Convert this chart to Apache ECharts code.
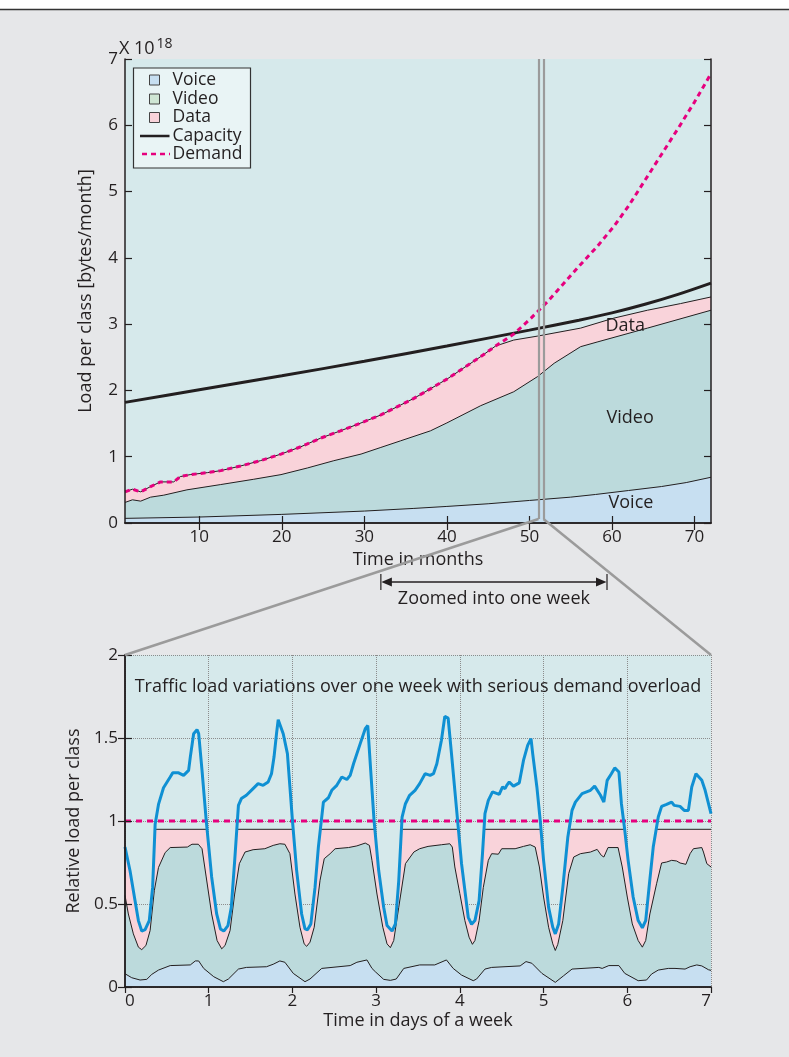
<!DOCTYPE html>
<html><head><meta charset="utf-8">
<script src="https://cdn.jsdelivr.net/npm/echarts@6/dist/echarts.min.js"></script>
<style>html,body{margin:0;padding:0;background:#e6e7e9;} #c{width:789px;height:1057px;}</style>
</head><body><div id="c"></div>
<script>
// ---------- Top chart data: [month, load x 10^18 bytes/month] ----------
const monthTicks = [10, 20, 30, 40, 50, 60, 70];
const voiceLoad = [[1,0.07],[10,0.09],[20,0.13],[30,0.18],[36,0.22],[40,0.25],[45,0.29],[50,0.34],[55,0.39],[58,0.43],[62,0.49],[66,0.55],[69,0.61],[72,0.69]];
const videoTop = [[1,0.31],[1.9,0.35],[2.9,0.33],[4.1,0.39],[5.7,0.42],[8.5,0.50],[12.6,0.58],[16.6,0.66],[19.9,0.73],[23.1,0.83],[26.3,0.94],[29.6,1.04],[32,1.14],[34.4,1.24],[38,1.39],[40,1.51],[44.1,1.77],[48.1,1.98],[51,2.21],[53,2.41],[56.2,2.66],[58.2,2.73],[64.3,2.94],[72,3.21]];
const dataTop = [[1,0.47],[1.9,0.51],[2.9,0.47],[4.1,0.55],[5.3,0.62],[6.9,0.62],[7.7,0.70],[8.9,0.73],[11,0.76],[12.6,0.79],[15,0.86],[17.4,0.94],[19.9,1.04],[22.3,1.15],[24.7,1.28],[27.1,1.39],[29.6,1.51],[32,1.63],[34.4,1.78],[36,1.88],[40,2.17],[44.1,2.51],[45.9,2.67],[48.1,2.76],[51,2.82],[56.2,2.94],[60.2,3.09],[64.3,3.21],[68.3,3.31],[72,3.41]];
const capacityLoad = [[1,1.82],[10,2.01],[20,2.22],[30,2.44],[40,2.67],[50,2.91],[56,3.06],[60,3.17],[64,3.30],[68,3.45],[72,3.62]];
const demandLoad = [[1,0.47],[1.9,0.51],[2.9,0.47],[4.1,0.55],[5.3,0.62],[6.9,0.62],[7.7,0.70],[8.9,0.73],[11,0.76],[12.6,0.79],[15,0.86],[17.4,0.94],[19.9,1.04],[22.3,1.15],[24.7,1.28],[27.1,1.39],[29.6,1.51],[32,1.63],[34.4,1.78],[36,1.88],[40,2.17],[44.1,2.51],[45.9,2.67],[48.1,2.85],[50.2,3.09],[52.2,3.34],[54.2,3.62],[56.2,3.90],[58.2,4.17],[60.2,4.47],[62,4.78],[64,5.17],[66,5.56],[68,5.95],[70,6.35],[72,6.78]];
const zoomWeekMonths = [51.1, 51.7];
const zoomArrowMonths = [32, 59.4];

// ---------- Bottom chart data: [day, relative load] ----------
const trafficLoad = [[0,0.843],[0.06,0.70],[0.12,0.52],[0.16,0.40],[0.2,0.337],[0.24,0.345],[0.29,0.40],[0.33,0.60],[0.36,0.98],[0.40,1.10],[0.46,1.20],[0.54,1.265],[0.57,1.29],[0.64,1.29],[0.70,1.275],[0.76,1.305],[0.78,1.385],[0.82,1.526],[0.86,1.55],[0.88,1.526],[0.92,1.305],[0.97,1.004],[1.035,0.663],[1.095,0.44],[1.14,0.35],[1.18,0.337],[1.23,0.37],[1.27,0.48],[1.31,0.76],[1.355,1.094],[1.39,1.135],[1.45,1.155],[1.53,1.195],[1.59,1.225],[1.65,1.215],[1.71,1.235],[1.75,1.285],[1.78,1.385],[1.81,1.526],[1.83,1.61],[1.89,1.526],[1.94,1.406],[1.97,1.205],[2.0,1.004],[2.05,0.703],[2.11,0.44],[2.15,0.35],[2.18,0.345],[2.22,0.38],[2.27,0.60],[2.31,0.843],[2.37,1.114],[2.43,1.14],[2.47,1.185],[2.53,1.215],[2.59,1.265],[2.65,1.25],[2.69,1.275],[2.73,1.345],[2.81,1.466],[2.87,1.556],[2.90,1.575],[2.935,1.305],[2.975,1.004],[3.03,0.703],[3.09,0.48],[3.13,0.37],[3.19,0.337],[3.23,0.38],[3.27,0.64],[3.31,1.024],[3.35,1.104],[3.40,1.155],[3.465,1.185],[3.52,1.225],[3.585,1.285],[3.645,1.275],[3.685,1.285],[3.725,1.345],[3.78,1.486],[3.82,1.63],[3.86,1.62],[3.90,1.406],[3.94,1.185],[3.98,0.964],[4.02,0.743],[4.07,0.542],[4.10,0.42],[4.14,0.378],[4.18,0.40],[4.23,0.52],[4.27,0.80],[4.30,1.044],[4.34,1.124],[4.39,1.175],[4.47,1.16],[4.51,1.205],[4.54,1.195],[4.56,1.215],[4.59,1.235],[4.64,1.21],[4.71,1.23],[4.76,1.365],[4.81,1.456],[4.85,1.496],[4.87,1.406],[4.92,1.205],[4.96,1.004],[5.0,0.763],[5.06,0.48],[5.11,0.36],[5.14,0.32],[5.18,0.38],[5.23,0.60],[5.29,0.904],[5.34,1.064],[5.38,1.114],[5.46,1.165],[5.56,1.185],[5.61,1.21],[5.68,1.155],[5.72,1.114],[5.76,1.245],[5.81,1.285],[5.85,1.32],[5.90,1.295],[5.93,1.104],[5.97,0.944],[6.01,0.763],[6.07,0.542],[6.13,0.40],[6.18,0.357],[6.22,0.40],[6.26,0.60],[6.31,0.843],[6.37,1.024],[6.41,1.088],[6.47,1.10],[6.53,1.114],[6.56,1.094],[6.63,1.088],[6.68,1.064],[6.73,1.064],[6.77,1.205],[6.82,1.285],[6.89,1.245],[6.93,1.185],[7.0,1.044]];
const servedDataTop = [[0,0.843],[0.06,0.70],[0.12,0.52],[0.16,0.40],[0.2,0.337],[0.24,0.345],[0.29,0.40],[0.33,0.60],[0.358,0.95],[0.98,0.95],[1.035,0.663],[1.095,0.44],[1.14,0.35],[1.18,0.337],[1.23,0.37],[1.27,0.48],[1.31,0.76],[1.336,0.95],[2.009,0.95],[2.05,0.703],[2.11,0.44],[2.15,0.35],[2.18,0.345],[2.22,0.38],[2.27,0.60],[2.31,0.843],[2.334,0.95],[2.985,0.95],[3.03,0.703],[3.09,0.48],[3.13,0.37],[3.19,0.337],[3.23,0.38],[3.27,0.64],[3.302,0.95],[3.983,0.95],[4.02,0.743],[4.07,0.542],[4.10,0.42],[4.14,0.378],[4.18,0.40],[4.23,0.52],[4.27,0.80],[4.288,0.95],[4.969,0.95],[5.0,0.763],[5.06,0.48],[5.11,0.36],[5.14,0.32],[5.18,0.38],[5.23,0.60],[5.29,0.904],[5.304,0.95],[5.968,0.95],[6.01,0.763],[6.07,0.542],[6.13,0.40],[6.18,0.357],[6.22,0.40],[6.26,0.60],[6.31,0.843],[6.345,0.95],[7,0.95]];
const servedVideoTop = [[0,0.552],[0.04,0.44],[0.10,0.32],[0.16,0.24],[0.20,0.225],[0.25,0.25],[0.30,0.34],[0.35,0.58],[0.40,0.72],[0.48,0.81],[0.54,0.84],[0.745,0.843],[0.80,0.86],[0.876,0.86],[0.92,0.833],[0.97,0.663],[1.035,0.44],[1.10,0.28],[1.155,0.23],[1.195,0.25],[1.255,0.34],[1.31,0.56],[1.366,0.743],[1.434,0.813],[1.53,0.827],[1.67,0.833],[1.77,0.853],[1.85,0.863],[1.91,0.86],[1.97,0.803],[2.03,0.56],[2.09,0.36],[2.14,0.26],[2.17,0.245],[2.21,0.27],[2.26,0.36],[2.33,0.643],[2.38,0.773],[2.45,0.803],[2.51,0.833],[2.67,0.84],[2.77,0.85],[2.87,0.867],[2.92,0.853],[2.95,0.763],[3.01,0.56],[3.08,0.36],[3.13,0.26],[3.17,0.237],[3.21,0.28],[3.27,0.48],[3.35,0.743],[3.45,0.813],[3.52,0.833],[3.62,0.847],[3.78,0.857],[3.88,0.863],[3.91,0.843],[3.94,0.723],[4.0,0.562],[4.06,0.40],[4.11,0.30],[4.15,0.257],[4.18,0.28],[4.23,0.40],[4.28,0.60],[4.34,0.763],[4.38,0.803],[4.46,0.80],[4.50,0.833],[4.66,0.833],[4.76,0.847],[4.84,0.857],[4.90,0.843],[4.95,0.723],[5.0,0.542],[5.06,0.36],[5.11,0.26],[5.14,0.22],[5.17,0.257],[5.23,0.40],[5.30,0.683],[5.36,0.783],[5.44,0.803],[5.56,0.813],[5.64,0.829],[5.69,0.793],[5.72,0.783],[5.77,0.84],[5.89,0.84],[5.94,0.723],[6.0,0.542],[6.06,0.38],[6.13,0.28],[6.18,0.24],[6.22,0.28],[6.27,0.44],[6.35,0.622],[6.41,0.747],[6.47,0.753],[6.53,0.763],[6.59,0.759],[6.63,0.747],[6.70,0.739],[6.75,0.803],[6.79,0.833],[6.89,0.84],[6.91,0.813],[6.95,0.743],[7.0,0.723]];
const servedVoiceTop = [[0,0.08],[0.08,0.056],[0.18,0.042],[0.26,0.046],[0.32,0.076],[0.40,0.102],[0.54,0.129],[0.78,0.133],[0.84,0.157],[0.88,0.157],[0.94,0.112],[1.06,0.062],[1.175,0.032],[1.235,0.048],[1.355,0.108],[1.45,0.118],[1.69,0.122],[1.77,0.137],[1.85,0.157],[1.91,0.149],[2.01,0.082],[2.15,0.032],[2.21,0.048],[2.35,0.112],[2.69,0.129],[2.77,0.149],[2.89,0.163],[2.95,0.112],[2.99,0.092],[3.09,0.046],[3.17,0.040],[3.24,0.048],[3.33,0.112],[3.52,0.133],[3.70,0.133],[3.84,0.163],[3.92,0.112],[4.02,0.072],[4.16,0.038],[4.20,0.048],[4.30,0.108],[4.38,0.118],[4.72,0.127],[4.79,0.153],[4.86,0.143],[4.98,0.082],[5.14,0.028],[5.24,0.068],[5.34,0.108],[5.66,0.118],[5.70,0.112],[5.78,0.129],[5.90,0.129],[5.97,0.082],[6.13,0.038],[6.23,0.042],[6.29,0.078],[6.37,0.102],[6.49,0.112],[6.57,0.112],[6.69,0.108],[6.75,0.122],[6.83,0.133],[6.89,0.127],[6.97,0.104],[7,0.10]];
const weekDemand = [[0,1],[7,1]];

// ---------- styles ----------
const FONT = 'Open Sans';
const TXT = '#231f20';
const BG = '#d6e9eb';
const C_VOICE = '#c7dff1', C_VIDEO = '#bcdadc', C_DATA = '#f9d3da';
const C_DEMAND = '#e6007e', C_TRAFFIC = '#0f90d3', C_ZOOM = '#9b9b9b';

const chart = echarts.init(document.getElementById('c'), null, {renderer: 'canvas', width: 789, height: 1057});

function areaSeries(name, data, color, xi, yi) {
  return {name, type: 'line', xAxisIndex: xi, yAxisIndex: yi, data, showSymbol: false, symbol: 'none',
    lineStyle: {color: '#231f20', width: 1}, areaStyle: {color, opacity: 1}, silent: true, z: 2};
}
const lab = {color: TXT, fontFamily: FONT, fontSize: 17};
const nameLab = {color: TXT, fontFamily: FONT, fontSize: 18};
const axLine = {lineStyle: {color: TXT, width: 1.5}};

const option = {
  animation: false,
  backgroundColor: '#e6e7e9',
  textStyle: {fontFamily: FONT, color: TXT},
  grid: [
    {left: 125, top: 59, width: 586, height: 464, show: true, backgroundColor: BG, borderWidth: 0},
    {left: 125, top: 655, width: 586, height: 332, show: true, backgroundColor: BG, borderWidth: 0}
  ],
  xAxis: [
    {gridIndex: 0, type: 'value', min: 1, max: 72, position: 'bottom', z: 5, axisLine: axLine,
     axisTick: {inside: true, length: 7, customValues: monthTicks, lineStyle: {color: TXT, width: 1.2}},
     axisLabel: Object.assign({customValues: monthTicks, margin: 6}, lab), splitLine: {show: false},
     name: 'Time in months', nameLocation: 'middle', nameGap: 28, nameTextStyle: nameLab},
    {gridIndex: 0, type: 'value', min: 1, max: 72, position: 'top', z: 5, axisLine: axLine,
     axisTick: {inside: true, length: 7, customValues: monthTicks, lineStyle: {color: TXT, width: 1.2}},
     axisLabel: {show: false}, splitLine: {show: false}},
    {gridIndex: 1, type: 'value', min: 0, max: 7, interval: 1, position: 'bottom', z: 5, axisLine: axLine,
     axisTick: {show: false}, axisLabel: Object.assign({margin: 6, alignMinLabel: 'left', alignMaxLabel: 'right'}, lab),
     splitLine: {show: false},
     name: 'Time in days of a week', nameLocation: 'middle', nameGap: 25, nameTextStyle: nameLab},
    {gridIndex: 1, type: 'value', min: 0, max: 7, interval: 1, position: 'top', z: 5, axisLine: axLine,
     axisTick: {inside: true, length: 6, lineStyle: {color: TXT, width: 1.2}}, axisLabel: {show: false}, splitLine: {show: false}},
    {gridIndex: 1, type: 'value', min: 0, max: 7, interval: 1, position: 'bottom', z: 0, axisLine: {show: false},
     axisTick: {show: false}, axisLabel: {show: false},
     splitLine: {show: true, lineStyle: {color: '#8c8c8c', type: 'dotted', width: 1}}}
  ],
  yAxis: [
    {gridIndex: 0, type: 'value', min: 0, max: 7, interval: 1, position: 'left', z: 5, axisLine: axLine,
     axisTick: {inside: true, length: 7, lineStyle: {color: TXT, width: 1.2}},
     axisLabel: Object.assign({margin: 7}, lab), splitLine: {show: false},
     name: 'Load per class [bytes/month]', nameLocation: 'middle', nameGap: 30, nameTextStyle: nameLab},
    {gridIndex: 0, type: 'value', min: 0, max: 7, interval: 1, position: 'right', z: 5, axisLine: axLine,
     axisTick: {inside: true, length: 7, lineStyle: {color: TXT, width: 1.2}}, axisLabel: {show: false}, splitLine: {show: false}},
    {gridIndex: 1, type: 'value', min: 0, max: 2, interval: 0.5, position: 'left', z: 5, axisLine: axLine,
     axisTick: {inside: true, length: 7, lineStyle: {color: TXT, width: 1.2}},
     axisLabel: Object.assign({margin: 7}, lab), splitLine: {show: false},
     name: 'Relative load per class', nameLocation: 'middle', nameGap: 30, nameTextStyle: nameLab},
    {gridIndex: 1, type: 'value', min: 0, max: 2, interval: 0.5, position: 'right', z: 5, axisLine: axLine,
     axisTick: {inside: true, length: 7, lineStyle: {color: TXT, width: 1.2}}, axisLabel: {show: false}, splitLine: {show: false}},
    {gridIndex: 1, type: 'value', min: 0, max: 2, interval: 0.5, position: 'left', z: 0, axisLine: {show: false},
     axisTick: {show: false}, axisLabel: {show: false},
     splitLine: {show: true, lineStyle: {color: '#8c8c8c', type: 'dotted', width: 1}}}
  ],
  series: [
    areaSeries('Data', dataTop, C_DATA, 0, 0),
    areaSeries('Video', videoTop, C_VIDEO, 0, 0),
    areaSeries('Voice', voiceLoad, C_VOICE, 0, 0),
    {name: 'Capacity', type: 'line', xAxisIndex: 0, yAxisIndex: 0, data: capacityLoad, showSymbol: false, symbol: 'none',
     smooth: 0.3, lineStyle: {color: '#231f20', width: 3}, z: 3, silent: true,
     markLine: {silent: true, symbol: 'none', label: {show: false}, lineStyle: {color: C_ZOOM, width: 2.2, type: 'solid'},
       data: zoomWeekMonths.map(m => [{coord: [m, 0.06]}, {coord: [m, 7]}])}},
    {name: 'Demand', type: 'line', xAxisIndex: 0, yAxisIndex: 0, data: demandLoad, showSymbol: false, symbol: 'none',
     lineStyle: {color: C_DEMAND, width: 3, type: [5, 4]}, z: 4, silent: true},

    areaSeries('Data (week)', servedDataTop, C_DATA, 2, 2),
    areaSeries('Video (week)', servedVideoTop, C_VIDEO, 2, 2),
    areaSeries('Voice (week)', servedVoiceTop, C_VOICE, 2, 2),
    {name: 'Demand (week)', type: 'line', xAxisIndex: 2, yAxisIndex: 2, data: weekDemand, showSymbol: false, symbol: 'none',
     lineStyle: {color: C_DEMAND, width: 3, type: [6, 5]}, z: 3, silent: true},
    {name: 'Traffic (week)', type: 'line', xAxisIndex: 2, yAxisIndex: 2, data: trafficLoad, showSymbol: false, symbol: 'none',
     lineStyle: {color: C_TRAFFIC, width: 3}, z: 4, silent: true}
  ]
};
chart.setOption(option);

// ---------- annotations positioned via the chart's own scales ----------
const P0 = (x, y) => chart.convertToPixel({xAxisIndex: 0, yAxisIndex: 0}, [x, y]);
const P1 = (x, y) => chart.convertToPixel({xAxisIndex: 2, yAxisIndex: 2}, [x, y]);
const zl = P0(zoomWeekMonths[0], 0.06), zr = P0(zoomWeekMonths[1], 0.06);
const bl = P1(0, 2), br = P1(7, 2);
const aL = P0(zoomArrowMonths[0], 0)[0], aR = P0(zoomArrowMonths[1], 0)[0];
const aY = 582;
const F18 = '18px "Open Sans"';
const txt = (text, x, y, opts) => ({type: 'text', x, y, z: 20, style: Object.assign({text, fill: TXT, font: F18, textAlign: 'center', textVerticalAlign: 'middle'}, opts || {})});
const dataLbl = P0(61.6, 2.97), videoLbl = P0(62.2, 1.59), voiceLbl = P0(62.3, 0.31);
const weekTitle = P1(3.5, 1.805);

const lx = 133.5, ly = 68;
const legendRows = [80, 99, 117.5, 136, 154];
const graphic = [
  {type: 'rect', shape: {x: 0, y: 0, width: 789, height: 9}, style: {fill: '#ffffff'}, z: 1},
  {type: 'line', shape: {x1: 0, y1: 9.5, x2: 789, y2: 9.5}, style: {stroke: '#333', lineWidth: 1.5}, z: 1},
  // zoom connector lines
  {type: 'line', shape: {x1: zl[0], y1: zl[1], x2: bl[0], y2: bl[1]}, style: {stroke: C_ZOOM, lineWidth: 2.5}, z: 10},
  {type: 'line', shape: {x1: zr[0], y1: zr[1], x2: br[0], y2: br[1]}, style: {stroke: C_ZOOM, lineWidth: 2.5}, z: 10},
  // zoom range arrow
  {type: 'line', shape: {x1: aL + 8, y1: aY, x2: aR - 8, y2: aY}, style: {stroke: TXT, lineWidth: 1.5}, z: 11},
  {type: 'line', shape: {x1: aL, y1: aY - 8, x2: aL, y2: aY + 8}, style: {stroke: TXT, lineWidth: 1.2}, z: 11},
  {type: 'line', shape: {x1: aR, y1: aY - 8, x2: aR, y2: aY + 8}, style: {stroke: TXT, lineWidth: 1.2}, z: 11},
  {type: 'polygon', shape: {points: [[aL + 0.5, aY], [aL + 11, aY - 4.5], [aL + 11, aY + 4.5]]}, style: {fill: TXT}, z: 11},
  {type: 'polygon', shape: {points: [[aR - 0.5, aY], [aR - 11, aY - 4.5], [aR - 11, aY + 4.5]]}, style: {fill: TXT}, z: 11},
  txt('Zoomed into one week', (aL + aR) / 2, 599),
  // area labels
  txt('Data', dataLbl[0], dataLbl[1]),
  txt('Video', videoLbl[0], videoLbl[1]),
  txt('Voice', voiceLbl[0], voiceLbl[1]),
  txt('Traffic load variations over one week with serious demand overload', weekTitle[0], weekTitle[1]),
  // exponent
  txt('X 10', 119, 49, {textAlign: 'left'}),
  txt('18', 156.5, 44, {textAlign: 'left', font: '14px "Open Sans"'}),
  // legend
  {type: 'rect', shape: {x: lx, y: ly, width: 117, height: 100}, style: {fill: '#e9f4f5', stroke: '#333', lineWidth: 1.2}, z: 12},
  {type: 'rect', shape: {x: 149.5, y: legendRows[0] - 5, width: 10, height: 10}, style: {fill: C_VOICE, stroke: '#444', lineWidth: 1}, z: 13},
  {type: 'rect', shape: {x: 149.5, y: legendRows[1] - 5, width: 10, height: 10}, style: {fill: '#cfe6d4', stroke: '#444', lineWidth: 1}, z: 13},
  {type: 'rect', shape: {x: 149.5, y: legendRows[2] - 5, width: 10, height: 10}, style: {fill: C_DATA, stroke: '#444', lineWidth: 1}, z: 13},
  {type: 'line', shape: {x1: 140, y1: legendRows[3], x2: 169.5, y2: legendRows[3]}, style: {stroke: '#231f20', lineWidth: 2.5}, z: 13},
  {type: 'line', shape: {x1: 142, y1: legendRows[4], x2: 170, y2: legendRows[4]}, style: {stroke: C_DEMAND, lineWidth: 2.5, lineDash: [5, 4]}, z: 13},
  txt('Voice', 172.5, legendRows[0], {textAlign: 'left', font: '17.5px "Open Sans"'}),
  txt('Video', 172.5, legendRows[1], {textAlign: 'left', font: '17.5px "Open Sans"'}),
  txt('Data', 172.5, legendRows[2], {textAlign: 'left', font: '17.5px "Open Sans"'}),
  txt('Capacity', 172.5, legendRows[3], {textAlign: 'left', font: '17.5px "Open Sans"'}),
  txt('Demand', 172.5, legendRows[4], {textAlign: 'left', font: '17.5px "Open Sans"'})
];
chart.setOption({graphic});
</script>
</body></html>
